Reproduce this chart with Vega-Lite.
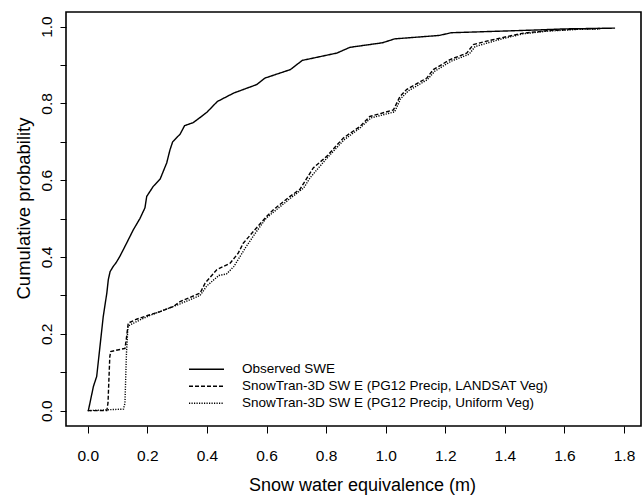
{
  "$schema": "https://vega.github.io/schema/vega-lite/v6.json",
  "autosize": "none",
  "padding": {"left": 66, "top": 12, "right": 2, "bottom": 70},
  "width": 575,
  "height": 414,
  "background": "white",
  "config": {
    "view": {"stroke": "black", "strokeWidth": 1.6},
    "font": "Liberation Sans"
  },
  "data": {"values": [
    {"s": "Observed SWE", "x": 0.002, "y": 0},
    {"s": "Observed SWE", "x": 0.019, "y": 0.063},
    {"s": "Observed SWE", "x": 0.03, "y": 0.089},
    {"s": "Observed SWE", "x": 0.041, "y": 0.167},
    {"s": "Observed SWE", "x": 0.052, "y": 0.245},
    {"s": "Observed SWE", "x": 0.064, "y": 0.306},
    {"s": "Observed SWE", "x": 0.069, "y": 0.341},
    {"s": "Observed SWE", "x": 0.075, "y": 0.362},
    {"s": "Observed SWE", "x": 0.085, "y": 0.375},
    {"s": "Observed SWE", "x": 0.095, "y": 0.385},
    {"s": "Observed SWE", "x": 0.108, "y": 0.402},
    {"s": "Observed SWE", "x": 0.131, "y": 0.437},
    {"s": "Observed SWE", "x": 0.153, "y": 0.471},
    {"s": "Observed SWE", "x": 0.175, "y": 0.5},
    {"s": "Observed SWE", "x": 0.192, "y": 0.528},
    {"s": "Observed SWE", "x": 0.198, "y": 0.558},
    {"s": "Observed SWE", "x": 0.22, "y": 0.584},
    {"s": "Observed SWE", "x": 0.243, "y": 0.603},
    {"s": "Observed SWE", "x": 0.265, "y": 0.645},
    {"s": "Observed SWE", "x": 0.276, "y": 0.679},
    {"s": "Observed SWE", "x": 0.285, "y": 0.7},
    {"s": "Observed SWE", "x": 0.31, "y": 0.72},
    {"s": "Observed SWE", "x": 0.325, "y": 0.742},
    {"s": "Observed SWE", "x": 0.354, "y": 0.75},
    {"s": "Observed SWE", "x": 0.38, "y": 0.765},
    {"s": "Observed SWE", "x": 0.4, "y": 0.777},
    {"s": "Observed SWE", "x": 0.435, "y": 0.805},
    {"s": "Observed SWE", "x": 0.49, "y": 0.827},
    {"s": "Observed SWE", "x": 0.567, "y": 0.849},
    {"s": "Observed SWE", "x": 0.595, "y": 0.866},
    {"s": "Observed SWE", "x": 0.68, "y": 0.888},
    {"s": "Observed SWE", "x": 0.72, "y": 0.912},
    {"s": "Observed SWE", "x": 0.836, "y": 0.931},
    {"s": "Observed SWE", "x": 0.88, "y": 0.946},
    {"s": "Observed SWE", "x": 0.99, "y": 0.958},
    {"s": "Observed SWE", "x": 1.03, "y": 0.968},
    {"s": "Observed SWE", "x": 1.18, "y": 0.977},
    {"s": "Observed SWE", "x": 1.22, "y": 0.984},
    {"s": "Observed SWE", "x": 1.38, "y": 0.988},
    {"s": "Observed SWE", "x": 1.5, "y": 0.991},
    {"s": "Observed SWE", "x": 1.6, "y": 0.994},
    {"s": "Observed SWE", "x": 1.77, "y": 0.996},

    {"s": "SnowTran-3D SW E (PG12 Precip, LANDSAT Veg)", "x": 0.0, "y": 0},
    {"s": "SnowTran-3D SW E (PG12 Precip, LANDSAT Veg)", "x": 0.064, "y": 0},
    {"s": "SnowTran-3D SW E (PG12 Precip, LANDSAT Veg)", "x": 0.068, "y": 0.02},
    {"s": "SnowTran-3D SW E (PG12 Precip, LANDSAT Veg)", "x": 0.074, "y": 0.14},
    {"s": "SnowTran-3D SW E (PG12 Precip, LANDSAT Veg)", "x": 0.077, "y": 0.154},
    {"s": "SnowTran-3D SW E (PG12 Precip, LANDSAT Veg)", "x": 0.1, "y": 0.158},
    {"s": "SnowTran-3D SW E (PG12 Precip, LANDSAT Veg)", "x": 0.125, "y": 0.162},
    {"s": "SnowTran-3D SW E (PG12 Precip, LANDSAT Veg)", "x": 0.13, "y": 0.19},
    {"s": "SnowTran-3D SW E (PG12 Precip, LANDSAT Veg)", "x": 0.136, "y": 0.228},
    {"s": "SnowTran-3D SW E (PG12 Precip, LANDSAT Veg)", "x": 0.164, "y": 0.238},
    {"s": "SnowTran-3D SW E (PG12 Precip, LANDSAT Veg)", "x": 0.198, "y": 0.247},
    {"s": "SnowTran-3D SW E (PG12 Precip, LANDSAT Veg)", "x": 0.243, "y": 0.258},
    {"s": "SnowTran-3D SW E (PG12 Precip, LANDSAT Veg)", "x": 0.287, "y": 0.271},
    {"s": "SnowTran-3D SW E (PG12 Precip, LANDSAT Veg)", "x": 0.31, "y": 0.284},
    {"s": "SnowTran-3D SW E (PG12 Precip, LANDSAT Veg)", "x": 0.377, "y": 0.306},
    {"s": "SnowTran-3D SW E (PG12 Precip, LANDSAT Veg)", "x": 0.394, "y": 0.332},
    {"s": "SnowTran-3D SW E (PG12 Precip, LANDSAT Veg)", "x": 0.433, "y": 0.367},
    {"s": "SnowTran-3D SW E (PG12 Precip, LANDSAT Veg)", "x": 0.478, "y": 0.384},
    {"s": "SnowTran-3D SW E (PG12 Precip, LANDSAT Veg)", "x": 0.505, "y": 0.41},
    {"s": "SnowTran-3D SW E (PG12 Precip, LANDSAT Veg)", "x": 0.522, "y": 0.436},
    {"s": "SnowTran-3D SW E (PG12 Precip, LANDSAT Veg)", "x": 0.561, "y": 0.471},
    {"s": "SnowTran-3D SW E (PG12 Precip, LANDSAT Veg)", "x": 0.601, "y": 0.506},
    {"s": "SnowTran-3D SW E (PG12 Precip, LANDSAT Veg)", "x": 0.623, "y": 0.523},
    {"s": "SnowTran-3D SW E (PG12 Precip, LANDSAT Veg)", "x": 0.679, "y": 0.558},
    {"s": "SnowTran-3D SW E (PG12 Precip, LANDSAT Veg)", "x": 0.712, "y": 0.576},
    {"s": "SnowTran-3D SW E (PG12 Precip, LANDSAT Veg)", "x": 0.757, "y": 0.632},
    {"s": "SnowTran-3D SW E (PG12 Precip, LANDSAT Veg)", "x": 0.802, "y": 0.662},
    {"s": "SnowTran-3D SW E (PG12 Precip, LANDSAT Veg)", "x": 0.858, "y": 0.71},
    {"s": "SnowTran-3D SW E (PG12 Precip, LANDSAT Veg)", "x": 0.914, "y": 0.74},
    {"s": "SnowTran-3D SW E (PG12 Precip, LANDSAT Veg)", "x": 0.947, "y": 0.766},
    {"s": "SnowTran-3D SW E (PG12 Precip, LANDSAT Veg)", "x": 1.026, "y": 0.783},
    {"s": "SnowTran-3D SW E (PG12 Precip, LANDSAT Veg)", "x": 1.048, "y": 0.818},
    {"s": "SnowTran-3D SW E (PG12 Precip, LANDSAT Veg)", "x": 1.07, "y": 0.836},
    {"s": "SnowTran-3D SW E (PG12 Precip, LANDSAT Veg)", "x": 1.138, "y": 0.866},
    {"s": "SnowTran-3D SW E (PG12 Precip, LANDSAT Veg)", "x": 1.16, "y": 0.888},
    {"s": "SnowTran-3D SW E (PG12 Precip, LANDSAT Veg)", "x": 1.216, "y": 0.914},
    {"s": "SnowTran-3D SW E (PG12 Precip, LANDSAT Veg)", "x": 1.272, "y": 0.931},
    {"s": "SnowTran-3D SW E (PG12 Precip, LANDSAT Veg)", "x": 1.294, "y": 0.953},
    {"s": "SnowTran-3D SW E (PG12 Precip, LANDSAT Veg)", "x": 1.339, "y": 0.962},
    {"s": "SnowTran-3D SW E (PG12 Precip, LANDSAT Veg)", "x": 1.384, "y": 0.97},
    {"s": "SnowTran-3D SW E (PG12 Precip, LANDSAT Veg)", "x": 1.462, "y": 0.983},
    {"s": "SnowTran-3D SW E (PG12 Precip, LANDSAT Veg)", "x": 1.54, "y": 0.989},
    {"s": "SnowTran-3D SW E (PG12 Precip, LANDSAT Veg)", "x": 1.653, "y": 0.994},
    {"s": "SnowTran-3D SW E (PG12 Precip, LANDSAT Veg)", "x": 1.72, "y": 0.995},

    {"s": "SnowTran-3D SW E (PG12 Precip, Uniform Veg)", "x": 0.0, "y": 0},
    {"s": "SnowTran-3D SW E (PG12 Precip, Uniform Veg)", "x": 0.12, "y": 0.004},
    {"s": "SnowTran-3D SW E (PG12 Precip, Uniform Veg)", "x": 0.125, "y": 0.02},
    {"s": "SnowTran-3D SW E (PG12 Precip, Uniform Veg)", "x": 0.13, "y": 0.15},
    {"s": "SnowTran-3D SW E (PG12 Precip, Uniform Veg)", "x": 0.135, "y": 0.22},
    {"s": "SnowTran-3D SW E (PG12 Precip, Uniform Veg)", "x": 0.164, "y": 0.232},
    {"s": "SnowTran-3D SW E (PG12 Precip, Uniform Veg)", "x": 0.209, "y": 0.248},
    {"s": "SnowTran-3D SW E (PG12 Precip, Uniform Veg)", "x": 0.31, "y": 0.278},
    {"s": "SnowTran-3D SW E (PG12 Precip, Uniform Veg)", "x": 0.377, "y": 0.3},
    {"s": "SnowTran-3D SW E (PG12 Precip, Uniform Veg)", "x": 0.4, "y": 0.325},
    {"s": "SnowTran-3D SW E (PG12 Precip, Uniform Veg)", "x": 0.44, "y": 0.352},
    {"s": "SnowTran-3D SW E (PG12 Precip, Uniform Veg)", "x": 0.466, "y": 0.356},
    {"s": "SnowTran-3D SW E (PG12 Precip, Uniform Veg)", "x": 0.49, "y": 0.375},
    {"s": "SnowTran-3D SW E (PG12 Precip, Uniform Veg)", "x": 0.51, "y": 0.4},
    {"s": "SnowTran-3D SW E (PG12 Precip, Uniform Veg)", "x": 0.53, "y": 0.425},
    {"s": "SnowTran-3D SW E (PG12 Precip, Uniform Veg)", "x": 0.565, "y": 0.465},
    {"s": "SnowTran-3D SW E (PG12 Precip, Uniform Veg)", "x": 0.6, "y": 0.502},
    {"s": "SnowTran-3D SW E (PG12 Precip, Uniform Veg)", "x": 0.625, "y": 0.518},
    {"s": "SnowTran-3D SW E (PG12 Precip, Uniform Veg)", "x": 0.68, "y": 0.553},
    {"s": "SnowTran-3D SW E (PG12 Precip, Uniform Veg)", "x": 0.725, "y": 0.58},
    {"s": "SnowTran-3D SW E (PG12 Precip, Uniform Veg)", "x": 0.745, "y": 0.605},
    {"s": "SnowTran-3D SW E (PG12 Precip, Uniform Veg)", "x": 0.77, "y": 0.628},
    {"s": "SnowTran-3D SW E (PG12 Precip, Uniform Veg)", "x": 0.8, "y": 0.655},
    {"s": "SnowTran-3D SW E (PG12 Precip, Uniform Veg)", "x": 0.86, "y": 0.705},
    {"s": "SnowTran-3D SW E (PG12 Precip, Uniform Veg)", "x": 0.914, "y": 0.736},
    {"s": "SnowTran-3D SW E (PG12 Precip, Uniform Veg)", "x": 0.95, "y": 0.762},
    {"s": "SnowTran-3D SW E (PG12 Precip, Uniform Veg)", "x": 1.03, "y": 0.778},
    {"s": "SnowTran-3D SW E (PG12 Precip, Uniform Veg)", "x": 1.05, "y": 0.812},
    {"s": "SnowTran-3D SW E (PG12 Precip, Uniform Veg)", "x": 1.075, "y": 0.832},
    {"s": "SnowTran-3D SW E (PG12 Precip, Uniform Veg)", "x": 1.14, "y": 0.862},
    {"s": "SnowTran-3D SW E (PG12 Precip, Uniform Veg)", "x": 1.165, "y": 0.884},
    {"s": "SnowTran-3D SW E (PG12 Precip, Uniform Veg)", "x": 1.22, "y": 0.91},
    {"s": "SnowTran-3D SW E (PG12 Precip, Uniform Veg)", "x": 1.28, "y": 0.928},
    {"s": "SnowTran-3D SW E (PG12 Precip, Uniform Veg)", "x": 1.3, "y": 0.948},
    {"s": "SnowTran-3D SW E (PG12 Precip, Uniform Veg)", "x": 1.345, "y": 0.958},
    {"s": "SnowTran-3D SW E (PG12 Precip, Uniform Veg)", "x": 1.39, "y": 0.968},
    {"s": "SnowTran-3D SW E (PG12 Precip, Uniform Veg)", "x": 1.46, "y": 0.981},
    {"s": "SnowTran-3D SW E (PG12 Precip, Uniform Veg)", "x": 1.54, "y": 0.988},
    {"s": "SnowTran-3D SW E (PG12 Precip, Uniform Veg)", "x": 1.65, "y": 0.993},
    {"s": "SnowTran-3D SW E (PG12 Precip, Uniform Veg)", "x": 1.72, "y": 0.994}
  ]},
  "mark": {"type": "line", "color": "black", "strokeWidth": 1.4, "clip": true},
  "encoding": {
    "x": {
      "field": "x", "type": "quantitative",
      "scale": {"domain": [-0.073, 1.857], "nice": false, "zero": false},
      "axis": {
        "title": "Snow water equivalence (m)",
        "values": [0, 0.2, 0.4, 0.6, 0.8, 1.0, 1.2, 1.4, 1.6, 1.8],
        "format": ".1f",
        "grid": false, "domain": false,
        "ticks": true, "tickSize": 7, "tickColor": "black", "tickWidth": 1,
        "labelFont": "Liberation Sans", "labelFontSize": 15.5, "labelColor": "black",
        "labelBaseline": "alphabetic", "labelPadding": 27,
        "titleFont": "Liberation Sans", "titleFontSize": 18, "titleFontWeight": "normal", "titleColor": "black",
        "titleX": 296, "titleY": 64, "titleBaseline": "alphabetic", "titleAlign": "center"
      }
    },
    "y": {
      "field": "y", "type": "quantitative",
      "scale": {"domain": [-0.04, 1.038], "nice": false, "zero": false},
      "axis": {
        "title": "Cumulative probability",
        "values": [0, 0.1, 0.2, 0.3, 0.4, 0.5, 0.6, 0.7, 0.8, 0.9, 1.0],
        "labelExpr": "(round(datum.value*10) % 2 == 0) ? format(datum.value, '.1f') : ''",
        "grid": false, "domain": false,
        "ticks": true, "tickSize": 6, "tickColor": "black", "tickWidth": 1,
        "labelAngle": -90, "labelAlign": "center", "labelBaseline": "alphabetic", "labelPadding": 9,
        "labelFont": "Liberation Sans", "labelFontSize": 15.5, "labelColor": "black",
        "titleFont": "Liberation Sans", "titleFontSize": 18.5, "titleFontWeight": "normal", "titleColor": "black",
        "titleAngle": -90, "titleX": -43, "titleY": 196, "titleBaseline": "middle", "titleAlign": "center"
      }
    },
    "strokeDash": {
      "field": "s", "type": "nominal",
      "scale": {
        "domain": ["Observed SWE", "SnowTran-3D SW E (PG12 Precip, LANDSAT Veg)", "SnowTran-3D SW E (PG12 Precip, Uniform Veg)"],
        "range": [[1, 0], [4, 2], [1.2, 1.3]]
      },
      "legend": {
        "title": null,
        "orient": "none",
        "legendX": 122,
        "legendY": 349,
        "padding": 0,
        "symbolType": "stroke",
        "symbolSize": 1225,
        "symbolStrokeWidth": 1.4,
        "symbolStrokeColor": "black",
        "clipHeight": 16.5,
        "rowPadding": 0,
        "labelOffset": 17,
        "labelFont": "Liberation Sans",
        "labelFontSize": 13.5,
        "labelColor": "black",
        "labelBaseline": "middle",
        "labelLimit": 500
      }
    }
  }
}
